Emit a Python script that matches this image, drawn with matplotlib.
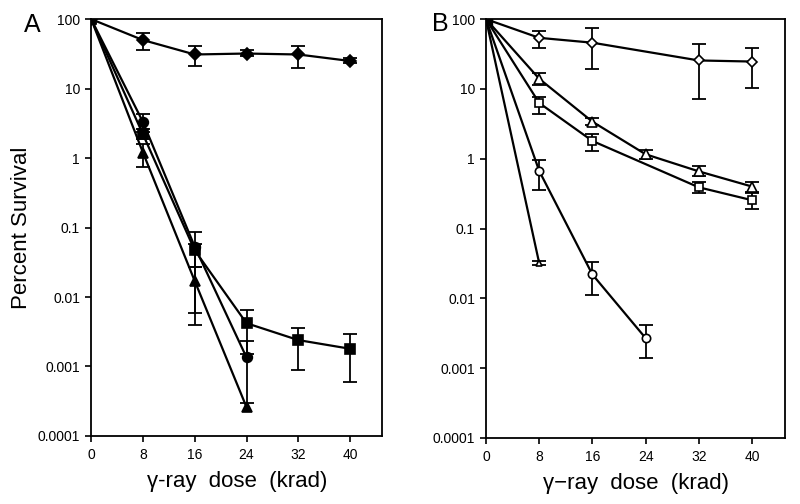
import matplotlib
matplotlib.use("Agg")
import matplotlib.pyplot as plt
import numpy as np
from matplotlib.ticker import FixedLocator, FixedFormatter, NullLocator

plt.rcParams["font.family"] = ["Liberation Sans", "DejaVu Sans"]

nan = np.nan

# ---- Panel A (filled markers) ----
a_diamond_x = [0, 8, 16, 24, 32, 40]
a_diamond_y = [100, 50, 31, 32, 31, 25]
a_diamond_lo = [nan, 36, 21, 29.6, 19.5, 23.5]
a_diamond_hi = [nan, 64, 41, 36, 41, 27.8]

a_circle_x = [0, 8, 16, 24]
a_circle_y = [100, 3.3, 0.053, 0.00135]
a_circle_lo = [nan, 2.4, 0.0058, 0.0003]
a_circle_hi = [nan, 4.3, 0.058, 0.0023]

a_square_x = [0, 8, 16, 24, 32, 40]
a_square_y = [100, 2.2, 0.047, 0.0042, 0.0024, 0.0018]
a_square_lo = [nan, 1.9, 0.027, 0.0015, 0.00089, 0.0006]
a_square_hi = [nan, 2.6, 0.085, 0.0065, 0.0036, 0.0029]

a_triangle_x = [0, 8, 16, 24]
a_triangle_y = [100, 1.2, 0.017, 0.00026]
a_triangle_lo = [nan, 0.75, 0.004, nan]
a_triangle_hi = [nan, 1.6, 0.027, nan]

# ---- Panel B (open markers) ----
b_diamond_x = [0, 8, 16, 32, 40]
b_diamond_y = [100, 54, 46, 25.6, 24.7]
b_diamond_lo = [nan, 38, 19, 7.1, 10.2]
b_diamond_hi = [nan, 68, 75, 44, 38.5]

b_hour_x = [0, 8, 16, 24, 32, 40]
b_hour_y = [100, 14, 3.4, 1.16, 0.66, 0.4]
b_hour_lo = [nan, 11.5, 3.0, 1.0, 0.56, 0.33]
b_hour_hi = [nan, 17, 3.9, 1.35, 0.78, 0.47]

b_square_x = [0, 8, 16, 32, 40]
b_square_y = [100, 6.3, 1.8, 0.39, 0.255]
b_square_lo = [nan, 4.4, 1.3, 0.32, 0.19]
b_square_hi = [nan, 7.7, 2.23, 0.47, 0.32]

b_circle_x = [0, 8, 16, 24]
b_circle_y = [100, 0.67, 0.022, 0.0027]
b_circle_lo = [nan, 0.36, 0.011, 0.0014]
b_circle_hi = [nan, 0.95, 0.033, 0.0041]

b_tri_x = [0, 8]
b_tri_y = [100, 0.032]
b_tri_lo = [nan, 0.030]
b_tri_hi = [nan, 0.034]

x_ticks = [0, 8, 16, 24, 32, 40]
y_ticks = [0.0001, 0.001, 0.01, 0.1, 1, 10, 100]
y_labels = ["0.0001", "0.001", "0.01", "0.1", "1", "10", "100"]


def draw_series(ax, x, y, lo, hi, marker, filled, ms=7):
    x = np.array(x, float)
    y = np.array(y, float)
    lo = np.array(lo, float)
    hi = np.array(hi, float)
    ax.plot(x, y, color="black", lw=1.6, zorder=2)
    m = ~np.isnan(lo)
    if m.any():
        ax.errorbar(x[m], y[m], yerr=[y[m] - lo[m], hi[m] - y[m]], fmt="none",
                    ecolor="black", elinewidth=1.3, capsize=5, capthick=1.3, zorder=3)
    ax.plot(x, y, ls="none", marker=marker, ms=ms,
            mfc="black" if filled else "white", mec="black", mew=1.2, zorder=4)


def style_axes(ax, xlabel):
    ax.set_yscale("log")
    ax.set_xlim(0, 45)
    ax.set_ylim(0.0001, 100)
    ax.xaxis.set_major_locator(FixedLocator(x_ticks))
    ax.yaxis.set_major_locator(FixedLocator(y_ticks))
    ax.yaxis.set_major_formatter(FixedFormatter(y_labels))
    ax.yaxis.set_minor_locator(NullLocator())
    ax.tick_params(direction="out", length=4, width=1.2, labelsize=10, pad=4)
    ax.tick_params(axis="x", pad=5)
    for s in ax.spines.values():
        s.set_linewidth(1.3)
    ax.set_xlabel(xlabel, fontsize=16, labelpad=6)


fig = plt.figure(figsize=(8, 5.04), dpi=100)
axA = fig.add_axes([0.114, 0.135, 0.364, 0.827])
axB = fig.add_axes([0.6075, 0.131, 0.374, 0.831])

draw_series(axA, a_diamond_x, a_diamond_y, a_diamond_lo, a_diamond_hi, "D", True, 6.5)
draw_series(axA, a_circle_x, a_circle_y, a_circle_lo, a_circle_hi, "o", True)
draw_series(axA, a_square_x, a_square_y, a_square_lo, a_square_hi, "s", True)
draw_series(axA, a_triangle_x, a_triangle_y, a_triangle_lo, a_triangle_hi, "^", True)

draw_series(axB, b_diamond_x, b_diamond_y, b_diamond_lo, b_diamond_hi, "D", False, 5)
draw_series(axB, b_hour_x, b_hour_y, b_hour_lo, b_hour_hi, "^", False)
draw_series(axB, b_square_x, b_square_y, b_square_lo, b_square_hi, "s", False, 6)
draw_series(axB, b_circle_x, b_circle_y, b_circle_lo, b_circle_hi, "o", False, 6)
draw_series(axB, b_tri_x, b_tri_y, b_tri_lo, b_tri_hi, "^", False, 5)
axB.plot([b_square_x[0]], [b_square_y[0]], ls="none", marker="s", ms=8,
         mfc="black", mec="black", zorder=5)

style_axes(axA, "γ-ray  dose  (krad)")
style_axes(axB, "γ\u2212ray  dose  (krad)")

fig.text(0.0275, 0.548, "Percent Survival", fontsize=16, rotation=90,
         ha="center", va="center")

fig.text(0.03, 0.95, "A", fontsize=18, ha="left", va="center")
fig.text(0.54, 0.952, "B", fontsize=18, ha="left", va="center")

fig.savefig("out.png", dpi=100)
